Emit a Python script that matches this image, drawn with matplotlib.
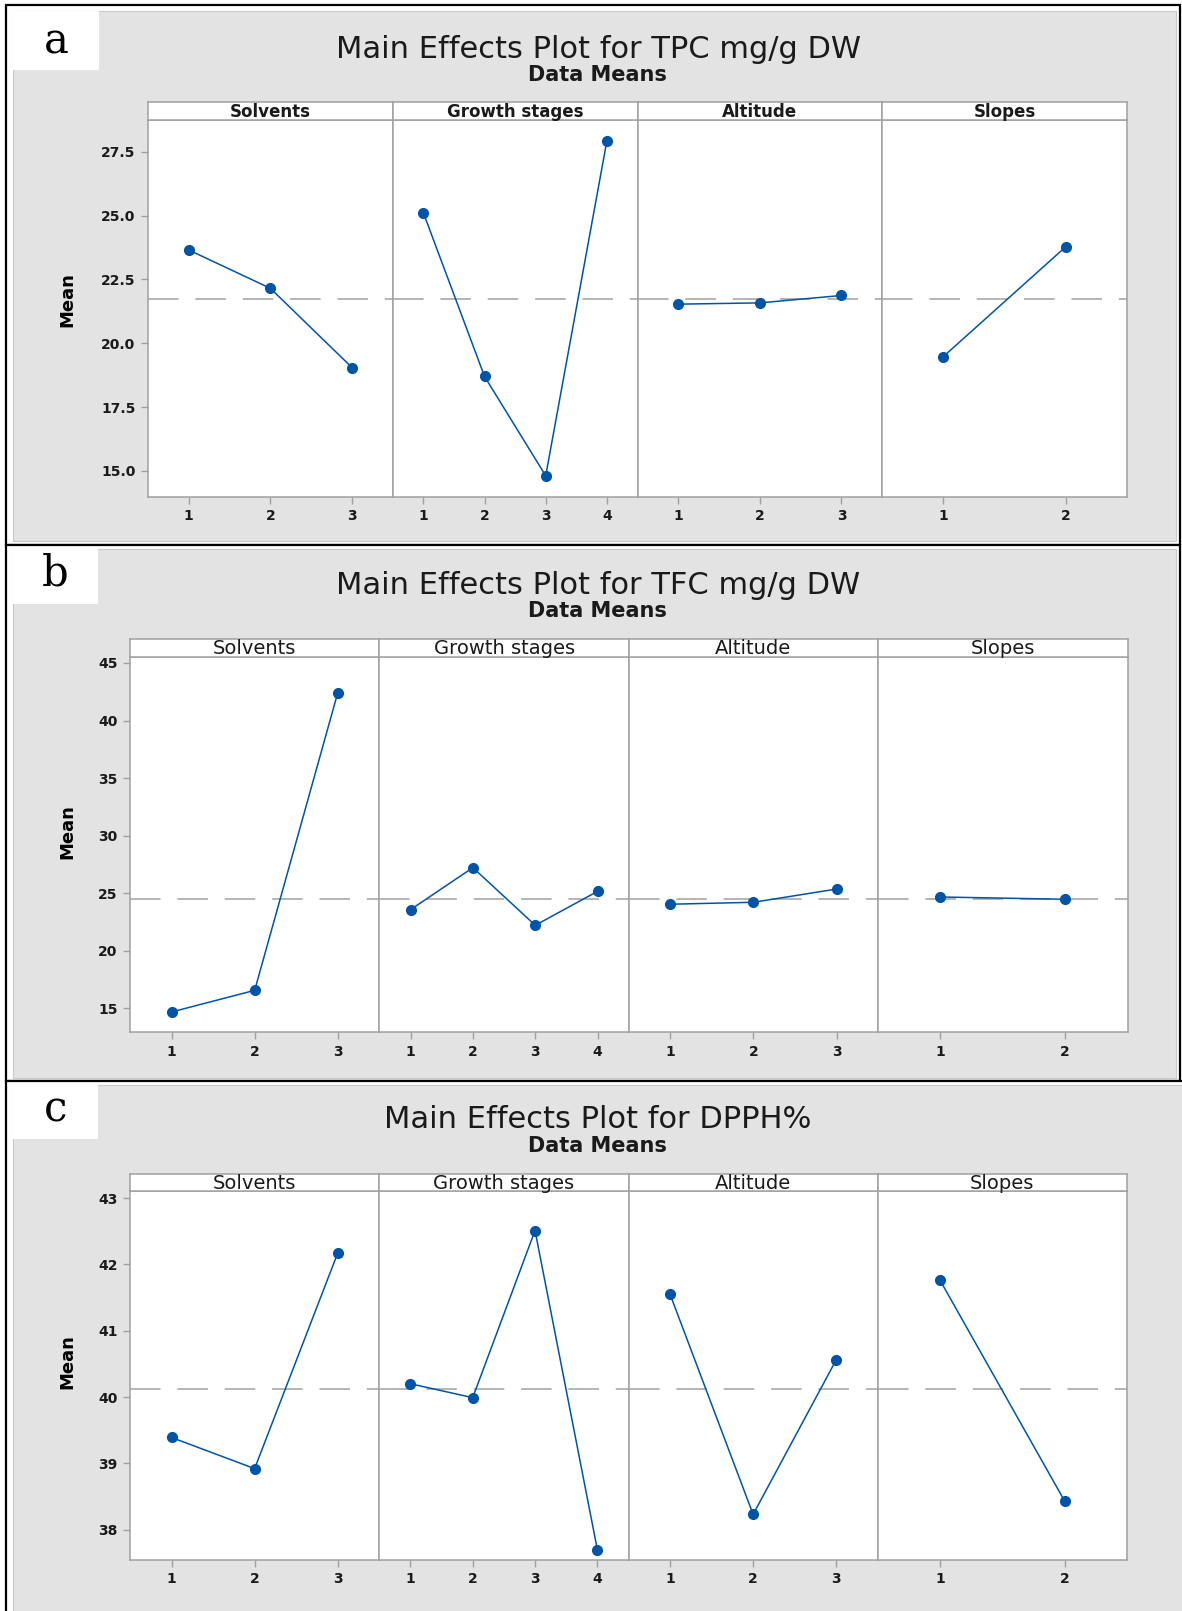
import matplotlib
matplotlib.use('Agg')
import matplotlib.pyplot as plt
from matplotlib.patches import Rectangle

W, H = 1182, 1611

factors = ['Solvents', 'Growth stages', 'Altitude', 'Slopes']
levels = [[1, 2, 3], [1, 2, 3, 4], [1, 2, 3], [1, 2]]

tpc_means = [[23.65, 22.15, 19.05],
             [25.11, 18.70, 14.81, 27.93],
             [21.53, 21.58, 21.87],
             [19.48, 23.78]]
tpc_grand = 21.73

tfc_means = [[14.68, 16.56, 42.43],
             [23.57, 27.22, 22.21, 25.16],
             [24.04, 24.21, 25.36],
             [24.67, 24.47]]
tfc_grand = 24.53

dpph_means = [[39.39, 38.92, 42.17],
              [40.20, 39.99, 42.51, 37.70],
              [41.55, 38.23, 40.56],
              [41.76, 38.43]]
dpph_grand = 40.12

titles = ['Main Effects Plot for TPC mg/g DW',
          'Main Effects Plot for TFC mg/g DW',
          'Main Effects Plot for DPPH%']
subtitle = 'Data Means'
panel_letters = ['a', 'b', 'c']
yticks_tpc = [15.0, 17.5, 20.0, 22.5, 25.0, 27.5]
yticks_tfc = [15, 20, 25, 30, 35, 40, 45]
yticks_dpph = [38, 39, 40, 41, 42, 43]

BLUE = '#0054a6'
GRAY = '#a0a0a0'
BG = '#e3e3e3'
TXT = '#1a1a1a'


def frac(x0, y0, x1, y1):
    # pixel box (top-left origin) -> figure fraction [l, b, w, h]
    return [x0 / W, 1 - y1 / H, (x1 - x0) / W, (y1 - y0) / H]


def fig_rect(fig, x0, y0, x1, y1, **kw):
    l, b, w, h = frac(x0, y0, x1, y1)
    fig.add_artist(Rectangle((l, b), w, h, transform=fig.transFigure,
                             zorder=-10, **kw))


fig = plt.figure(figsize=(W / 100, H / 100), dpi=100)
fig.patch.set_facecolor('white')

# outer frames and grey panels
fig_rect(fig, 6, 5, 1180, 545, fc='white', ec='black', lw=1.6)
fig_rect(fig, 6, 545, 1180, 1081, fc='white', ec='black', lw=1.6)
fig_rect(fig, 6, 1081, 1200, 1630, fc='white', ec='black', lw=1.6)

panels = [
    dict(gray=(13, 11, 1176, 541), lab=(13, 11, 99, 70), lab_y=41,
         left=148, right=1127, htop=102, hbot=120, bottom=497,
         ty=49, sy=75, ylab_y=300, ylim=(13.98, 28.74), yt=yticks_tpc,
         fmt='{:.1f}', means=tpc_means, grand=tpc_grand, hbold=True),
    dict(gray=(13, 549, 1176, 1078), lab=(13, 548, 98, 604), lab_y=574,
         left=130, right=1127.5, htop=639, hbot=657, bottom=1032,
         ty=585, sy=611, ylab_y=832, ylim=(12.94, 45.52), yt=yticks_tfc,
         fmt='{:.0f}', means=tfc_means, grand=tfc_grand, hbold=False),
    dict(gray=(13, 1085, 1190, 1620), lab=(13, 1084, 98, 1139), lab_y=1110,
         left=130, right=1127, htop=1173.5, hbot=1191, bottom=1559.5,
         ty=1119, sy=1146, ylab_y=1362, ylim=(37.55, 43.106), yt=yticks_dpph,
         fmt='{:.0f}', means=dpph_means, grand=dpph_grand, hbold=False),
]

for p, title, letter in zip(panels, titles, panel_letters):
    fig_rect(fig, *p['gray'], fc=BG, ec='#c8c8c8', lw=0.8)
    fig_rect(fig, *p['lab'], fc='white', ec='none')
    lx = (p['lab'][0] + p['lab'][2]) / 2
    fig.text(lx / W, 1 - p['lab_y'] / H, letter, family='DejaVu Serif',
             fontsize=30, ha='center', va='center', color='black')

    fig.text(598 / W, 1 - p['ty'] / H, title, fontsize=22,
             ha='center', va='center', color=TXT)
    fig.text(597 / W, 1 - p['sy'] / H, subtitle, fontsize=15,
             fontweight='bold', ha='center', va='center', color=TXT)
    fig.text(67 / W, 1 - p['ylab_y'] / H, 'Mean', fontsize=13,
             fontweight='bold', rotation=90, ha='center', va='center',
             color='black')

    fw = (p['right'] - p['left']) / 4
    for i, fac in enumerate(factors):
        x0 = p['left'] + i * fw
        x1 = x0 + fw
        ax = fig.add_axes(frac(x0, p['hbot'], x1, p['bottom']))
        hax = fig.add_axes(frac(x0, p['htop'], x1, p['hbot']))

        ax.set_facecolor('white')
        ax.axhline(p['grand'], color=GRAY, lw=1.1, linestyle=(0, (20, 11)),
                   zorder=1)
        ax.plot(levels[i], p['means'][i], color=BLUE, lw=1.1, marker='o',
                ms=7, zorder=3)
        ax.set_xlim(0.5, len(levels[i]) + 0.5)
        ax.set_ylim(*p['ylim'])
        ax.set_xticks(levels[i])
        ax.set_xticklabels([str(v) for v in levels[i]])
        if i == 0:
            ax.set_yticks(p['yt'])
            ax.set_yticklabels([p['fmt'].format(v) for v in p['yt']])
        else:
            ax.set_yticks([])
        ax.tick_params(direction='out', length=5, width=1, color=GRAY,
                       pad=4, labelsize=10, labelcolor=TXT)
        for lab in ax.get_xticklabels() + ax.get_yticklabels():
            lab.set_fontweight('bold')
        for s in ax.spines.values():
            s.set_color(GRAY)
            s.set_linewidth(1.1)

        hax.set_facecolor('white')
        hax.set_xticks([])
        hax.set_yticks([])
        for s in hax.spines.values():
            s.set_color(GRAY)
            s.set_linewidth(1.1)
        if p['hbold']:
            hax.text(0.5, 0.45, fac, transform=hax.transAxes, ha='center',
                     va='center', fontsize=12, fontweight='bold', color=TXT)
        else:
            hax.text(0.5, 0.45, fac, transform=hax.transAxes, ha='center',
                     va='center', fontsize=14, color=TXT)

fig.savefig('out.png', dpi=100)
